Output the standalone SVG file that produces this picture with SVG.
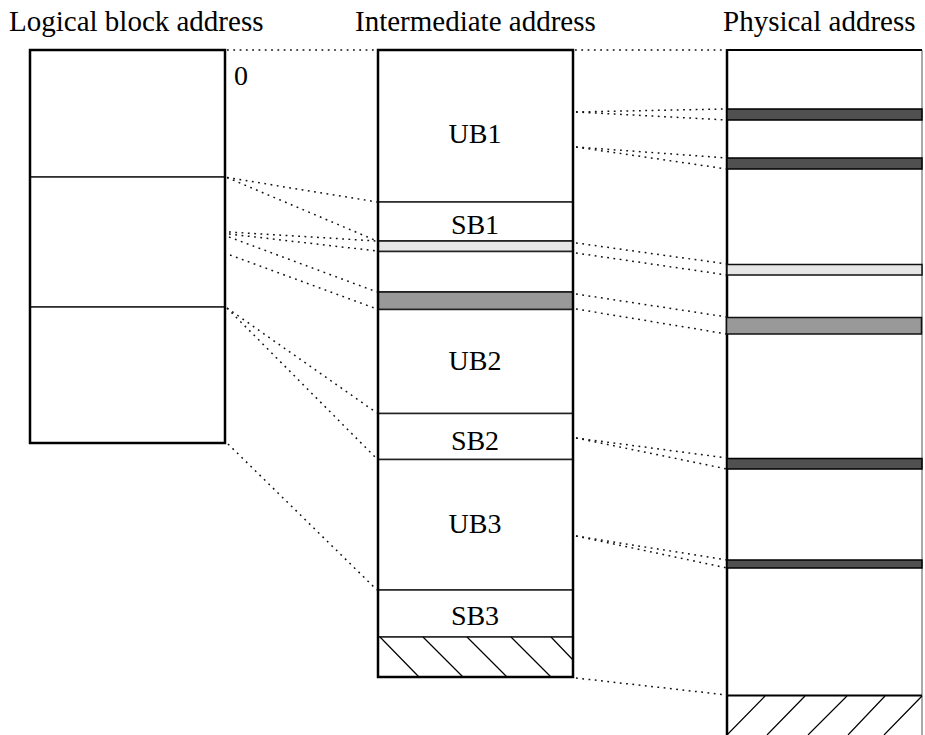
<svg xmlns="http://www.w3.org/2000/svg" width="925" height="735" viewBox="0 0 925 735">
<defs>
<style>
.hdr{font-family:"Liberation Serif","Times New Roman",serif;font-size:29px;fill:#000}
.lbl{font-family:"Liberation Serif","Times New Roman",serif;font-size:28px;fill:#000;text-anchor:middle}
.cell{fill:#fff;stroke:#222;stroke-width:1.5}
.edge{fill:none;stroke:#000;stroke-width:2.5}
.dark{fill:#505050;stroke:#000;stroke-width:1.5}
.light{fill:#e6e6e6;stroke:#111;stroke-width:1.5}
.mid{fill:#999;stroke:#111;stroke-width:1.5}
.hatch{stroke:#000;stroke-width:1.2;fill:none}
.dot{stroke:#111;stroke-width:1.5;stroke-dasharray:1.8 4.5;fill:none}
</style>
</defs>
<rect width="925" height="735" fill="#fff"/>

<text class="hdr" x="9" y="31">Logical block address</text>
<text class="hdr" x="355" y="31">Intermediate address</text>
<text class="hdr" x="723" y="31">Physical address</text>

<g id="lba">
  <g id="lba-1"><rect class="cell" x="30" y="50" width="195" height="127"/></g>
  <g id="lba-2"><rect class="cell" x="30" y="177" width="195" height="130"/></g>
  <g id="lba-3"><rect class="cell" x="30" y="307" width="195" height="136"/></g>
  <rect class="edge" x="30" y="50" width="195" height="393"/>
  <text class="lbl" x="241" y="85" font-size="26">0</text>
</g>

<g id="intermediate">
  <g id="ub1"><rect class="cell" x="378" y="50" width="195" height="152"/><text class="lbl" x="475" y="143">UB1</text></g>
  <g id="sb1"><rect class="cell" x="378" y="202" width="195" height="39"/><text class="lbl" x="475" y="234">SB1</text></g>
  <g id="ia-light"><rect class="light" x="378" y="241" width="195" height="10.5"/></g>
  <g id="ia-gap"><rect class="cell" x="378" y="251.5" width="195" height="40.5" stroke="none"/></g>
  <g id="ia-gray"><rect class="mid" x="378" y="292" width="195" height="17.5"/></g>
  <g id="ub2"><rect class="cell" x="378" y="309.5" width="195" height="104"/><text class="lbl" x="475" y="370">UB2</text></g>
  <g id="sb2"><rect class="cell" x="378" y="413.5" width="195" height="46"/><text class="lbl" x="475" y="450">SB2</text></g>
  <g id="ub3"><rect class="cell" x="378" y="459.5" width="195" height="130.5"/><text class="lbl" x="475" y="533">UB3</text></g>
  <g id="sb3"><rect class="cell" x="378" y="590" width="195" height="47"/><text class="lbl" x="475" y="625">SB3</text></g>
  <g id="ia-hatch">
    <rect class="cell" x="378" y="637" width="195" height="40"/>
    <path class="hatch" d="M380 637L419 677M423 637L463 677M467 637L507 677M511 637L551 677M551 637L573 660"/>
  </g>
  <rect class="edge" x="378" y="50" width="195" height="627"/>
</g>

<g id="physical">
  <line x1="922" y1="50" x2="922" y2="735" stroke="#555" stroke-width="1"/>
  <line x1="727" y1="50" x2="922" y2="50" stroke="#000" stroke-width="2"/>
  <line x1="727" y1="49" x2="727" y2="735" stroke="#000" stroke-width="2.5"/>
  <g id="pa-bar1"><rect class="dark" x="727" y="109" width="195" height="11"/></g>
  <g id="pa-bar2"><rect class="dark" x="727" y="158" width="195" height="11"/></g>
  <g id="pa-light"><rect class="light" x="727" y="264.5" width="195" height="10.5"/></g>
  <g id="pa-gray"><rect class="mid" x="726.5" y="317.5" width="195" height="16.5"/></g>
  <g id="pa-bar3"><rect class="dark" x="727" y="458.5" width="195" height="10.5"/></g>
  <g id="pa-bar4"><rect class="dark" x="727" y="560" width="195" height="8"/></g>
  <g id="pa-hatch">
    <line x1="727" y1="695.5" x2="922" y2="695.5" stroke="#000" stroke-width="1.8"/>
    <path class="hatch" d="M727 735L765 696M767 735L805 696M808 735L847 696M848 735L885 696M884 735L922 696"/>
  </g>
</g>

<g id="connectors">
  <line class="dot" x1="227" y1="50" x2="377" y2="50"/>
  <line class="dot" x1="575" y1="50" x2="727" y2="50"/>
  <line class="dot" x1="227" y1="177.5" x2="377" y2="202"/>
  <line class="dot" x1="227" y1="177.5" x2="377" y2="241"/>
  <line class="dot" x1="229" y1="232" x2="377" y2="241"/>
  <line class="dot" x1="229" y1="234" x2="377" y2="251"/>
  <line class="dot" x1="229" y1="237" x2="377" y2="292"/>
  <line class="dot" x1="230" y1="255" x2="377" y2="309"/>
  <line class="dot" x1="227" y1="308" x2="377" y2="413"/>
  <line class="dot" x1="227" y1="308" x2="377" y2="459"/>
  <line class="dot" x1="228" y1="444" x2="377" y2="590"/>
  <line class="dot" x1="576" y1="112" x2="727" y2="109"/>
  <line class="dot" x1="576" y1="112" x2="727" y2="120"/>
  <line class="dot" x1="576" y1="147" x2="727" y2="158"/>
  <line class="dot" x1="576" y1="147" x2="727" y2="169"/>
  <line class="dot" x1="576" y1="243" x2="727" y2="264"/>
  <line class="dot" x1="576" y1="253" x2="727" y2="275"/>
  <line class="dot" x1="576" y1="294" x2="727" y2="317"/>
  <line class="dot" x1="576" y1="309" x2="727" y2="334"/>
  <line class="dot" x1="576" y1="438" x2="727" y2="458"/>
  <line class="dot" x1="576" y1="438" x2="727" y2="469"/>
  <line class="dot" x1="576" y1="536" x2="727" y2="560"/>
  <line class="dot" x1="576" y1="536" x2="727" y2="568"/>
  <line class="dot" x1="576" y1="678" x2="727" y2="695"/>
</g>
</svg>
